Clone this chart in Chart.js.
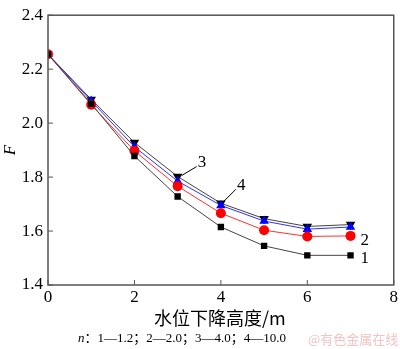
<!DOCTYPE html>
<html>
<head>
<meta charset="utf-8">
<script src="https://cdn.jsdelivr.net/npm/chart.js@4.4.1/dist/chart.umd.min.js"></script>
<style>
  html, body { margin: 0; padding: 0; background: #fff; }
  #wrap { position: relative; width: 400px; height: 349px; }
</style>
</head>
<body>
<div id="wrap"><canvas id="fChart" width="400" height="349"></canvas></div>
<script>
// water level drop height (m)
const drops = [0, 1, 2, 3, 4, 5, 6, 7];
// F for each n
const fN1 = [2.255, 2.072, 1.878, 1.728, 1.615, 1.545, 1.510, 1.510];
const fN2 = [2.255, 2.068, 1.897, 1.766, 1.666, 1.603, 1.580, 1.582];
const fN3 = [2.255, 2.082, 1.912, 1.785, 1.695, 1.637, 1.607, 1.615];
const fN4 = [2.255, 2.088, 1.928, 1.802, 1.703, 1.646, 1.617, 1.624];
const xTicks = [0, 2, 4, 6, 8];
const yTicks = [1.4, 1.6, 1.8, 2.0, 2.2, 2.4];
const curveLabels = ['1', '2', '3', '4'];

const serif = '"Liberation Serif", "Noto Sans CJK SC", serif';
const cjk = '"Noto Sans CJK SC", sans-serif';
const axisColor = '#555';

function toPoints(ys) {
    return drops.map((x, i) => ({ x: x, y: ys[i] }));
}

// box frame, inward ticks, curve labels and captions
const decorPlugin = {
    id: 'decor',
    afterDraw(chart) {
        const ctx = chart.ctx;
        const a = chart.chartArea;
        const xs = chart.scales.x, ys = chart.scales.y;
        ctx.save();
        ctx.strokeStyle = axisColor;
        ctx.lineWidth = 1.5;
        ctx.strokeRect(a.left, a.top, a.right - a.left, a.bottom - a.top);

        ctx.lineWidth = 1;
        xTicks.forEach(v => {
            const px = xs.getPixelForValue(v);
            ctx.beginPath();
            ctx.moveTo(px, a.bottom);
            ctx.lineTo(px, a.bottom - 5);
            ctx.stroke();
        });
        yTicks.forEach(v => {
            const py = ys.getPixelForValue(v);
            ctx.beginPath();
            ctx.moveTo(a.left, py);
            ctx.lineTo(a.left + 5, py);
            ctx.stroke();
        });

        // leader lines for curves 3 and 4
        ctx.strokeStyle = '#000';
        ctx.lineWidth = 1;
        const p3x = xs.getPixelForValue(3), p3y = ys.getPixelForValue(fN4[3]);
        ctx.beginPath();
        ctx.moveTo(p3x + 4, p3y - 1);
        ctx.lineTo(p3x + 19, p3y - 10);
        ctx.stroke();
        const p4x = xs.getPixelForValue(4), p4y = ys.getPixelForValue(fN4[4]);
        ctx.beginPath();
        ctx.moveTo(p4x + 3, p4y - 2);
        ctx.lineTo(p4x + 15, p4y - 14);
        ctx.stroke();

        ctx.fillStyle = '#000';
        ctx.font = '17px ' + serif;
        ctx.textAlign = 'left';
        ctx.textBaseline = 'middle';
        ctx.fillText(curveLabels[2], p3x + 20, p3y - 14);
        ctx.fillText(curveLabels[3], p4x + 16, p4y - 18);
        const x7 = xs.getPixelForValue(7);
        ctx.fillText(curveLabels[1], x7 + 10, ys.getPixelForValue(fN2[7]) + 5);
        ctx.fillText(curveLabels[0], x7 + 10, ys.getPixelForValue(fN1[7]) + 3);

        // y axis title, rotated italic F
        ctx.save();
        ctx.translate(11, ys.getPixelForValue(1.9));
        ctx.rotate(-Math.PI / 2);
        ctx.textAlign = 'center';
        ctx.font = 'italic 17px ' + serif;
        ctx.fillText('F', 0, 0);
        ctx.restore();

        // x axis title
        ctx.textAlign = 'center';
        ctx.font = '18px ' + cjk;
        ctx.fillText('水位下降高度/m', (a.left + a.right) / 2 - 1, 318);

        // legend note
        ctx.textAlign = 'left';
        ctx.font = 'italic 13px ' + serif;
        ctx.fillText('n', 78, 339);
        const nW = ctx.measureText('n').width;
        ctx.font = '13px ' + serif;
        ctx.fillText('：1—1.2；2—2.0；3—4.0；4—10.0', 78 + nW, 339);

        ctx.fillStyle = '#f2c4c4';
        ctx.font = '13px ' + cjk;
        ctx.fillText('@有色金属在线', 308, 339);
        ctx.restore();
    }
};

new Chart(document.getElementById('fChart'), {
    type: 'line',
    data: {
        datasets: [
            {
                label: '1',
                data: toPoints(fN1),
                borderColor: '#444',
                backgroundColor: '#000',
                borderWidth: 1,
                pointStyle: 'rect',
                pointRadius: 4.5,
                pointBorderWidth: 0
            },
            {
                label: '2',
                data: toPoints(fN2),
                borderColor: '#ff3030',
                backgroundColor: '#ff0000',
                borderWidth: 1,
                pointStyle: 'circle',
                pointRadius: 5,
                pointBorderWidth: 0
            },
            {
                label: '3',
                data: toPoints(fN3),
                borderColor: '#3030ff',
                backgroundColor: '#0000ff',
                borderWidth: 1,
                pointStyle: 'triangle',
                pointRadius: 5.5,
                pointBorderWidth: 0
            },
            {
                label: '4',
                data: toPoints(fN4),
                borderColor: '#444',
                backgroundColor: '#000',
                borderWidth: 1,
                pointStyle: 'triangle',
                pointRotation: 180,
                pointRadius: 5.5,
                pointBorderWidth: 0
            }
        ]
    },
    options: {
        responsive: false,
        animation: false,
        layout: { padding: { top: 7, right: 5, left: 0, bottom: 0 } },
        plugins: {
            legend: { display: false },
            tooltip: { enabled: false }
        },
        scales: {
            x: {
                type: 'linear',
                min: 0,
                max: 8,
                afterBuildTicks: s => { s.ticks = xTicks.map(v => ({ value: v })); },
                afterFit: s => { s.height = 64; },
                grid: { display: false, drawTicks: false },
                border: { display: false },
                ticks: {
                    color: '#000',
                    font: { family: serif, size: 17 },
                    padding: 2,
                    maxRotation: 0
                }
            },
            y: {
                type: 'linear',
                min: 1.4,
                max: 2.4,
                afterBuildTicks: s => { s.ticks = yTicks.map(v => ({ value: v })); },
                afterFit: s => { s.width = 48; },
                grid: { display: false, drawTicks: false },
                border: { display: false },
                ticks: {
                    color: '#000',
                    font: { family: serif, size: 17 },
                    padding: 5,
                    callback: v => v.toFixed(1)
                }
            }
        }
    },
    plugins: [decorPlugin]
});
</script>
</body>
</html>
